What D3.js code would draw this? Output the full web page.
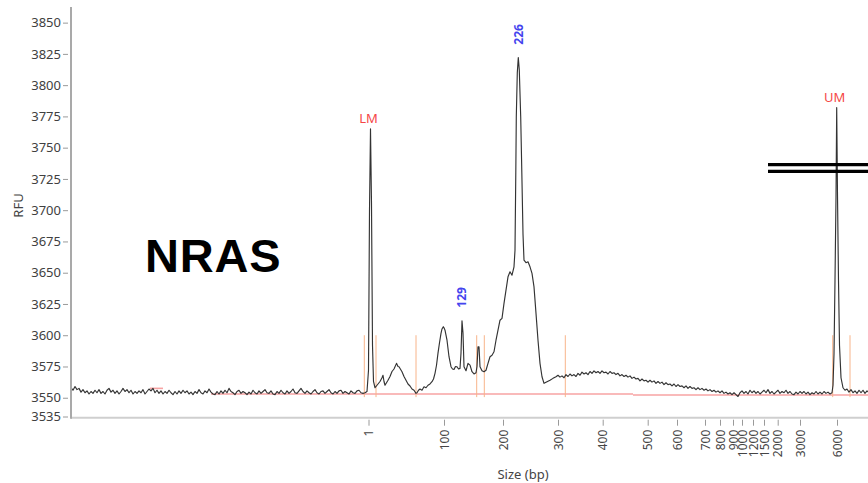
<!DOCTYPE html>
<html>
<head>
<meta charset="utf-8">
<script src="https://cdn.jsdelivr.net/npm/d3@7"></script>
<style>
  html, body { margin: 0; padding: 0; background: #fff; }
  svg { display: block; font-family: "Noto Sans", "DejaVu Sans", sans-serif; }
</style>
</head>
<body>
<svg id="chart" width="868" height="483"></svg>
<script>
// Size ladder: fragment sizes (bp) and the data point where each fragment migrates
const ladderSizes = [1, 100, 200, 300, 400, 500, 600, 700, 800, 900, 1000, 1200, 1500, 2000, 3000, 6000];
const ladderScans = [297.5, 373, 432, 487, 531.7, 576.7, 606, 634, 649, 662, 671, 682, 693, 706.7, 729, 766];

// RFU axis ticks
const rfuTicks = [3535, 3550, 3575, 3600, 3625, 3650, 3675, 3700, 3725, 3750, 3775, 3800, 3825, 3850];

// Lower / upper markers
const markerNames = ["LM", "UM"];
const markerScans = [299.5, 765.7];
const markerRFU = [3765, 3782];

// Called sample peaks (bp)
const calledSizes = [129, 226];
const calledScans = [391, 447.3];
const calledRFU = [3611.6, 3822];

// Peak integration boundaries (data point)
const boundaryScans = [293.3, 305, 345, 405.7, 413.3, 494.3, 761.7, 779];
const boundaryRFU = [3550.5, 3600];

// Fitted baseline segments
const baselineFrom = [79, 140, 562];
const baselineTo = [92, 562, 800];
const baselineRFU = [3557.5, 3553, 3552.2];

// Axis-break marks
const breakRFU = [3736.5, 3731];
const breakFrom = 697;

// Electropherogram trace: [data point, RFU]
const trace = [
  [0,3558],[2,3556],[4,3559],[6,3556.5],[8,3557.5],[10,3554.5],[12,3556.5],[14,3554],[16,3555.5],[18,3553],
  [20,3555],[22,3553.5],[24,3556],[26,3554],[28,3556.5],[30,3553.5],[32,3555],[34,3553],[36,3556],[38,3557.5],
  [40,3554.5],[42,3556],[44,3553.5],[46,3555.5],[48,3553],[50,3555],[52,3557.5],[54,3555],[56,3556.5],[58,3554],
  [60,3556],[62,3553],[64,3555],[66,3553.5],[68,3555.5],[70,3554],[72,3556.5],[74,3553],[76,3555],[78,3557],
  [80,3555.5],[82,3557.5],[84,3554],[86,3556],[88,3553.5],[90,3555.5],[92,3553],[94,3555],[96,3553.5],[98,3556],
  [100,3554],[102,3552.5],[104,3555],[106,3553],[108,3555.5],[110,3553.5],[112,3556],[114,3554],[116,3555.5],[118,3553],
  [120,3554.5],[122,3552.5],[124,3555],[126,3553.5],[128,3556.5],[130,3554],[132,3553],[134,3555.5],[136,3554],[138,3557],
  [140,3554.5],[142,3553],[144,3552.5],[146,3555],[148,3553],[150,3555.5],[152,3553.5],[154,3556],[156,3554],[158,3557.5],
  [160,3555],[162,3554],[164,3552.5],[166,3555],[168,3556],[170,3553.5],[172,3555],[174,3554],[176,3552.5],[178,3554.5],
  [180,3553],[182,3556],[184,3554],[186,3553],[188,3555.5],[190,3553.5],[192,3555],[194,3556.5],[196,3554],[198,3553.5],
  [200,3555.5],[202,3553],[204,3552.5],[206,3555],[208,3553.5],[210,3556],[212,3554],[214,3553],[216,3555.5],[218,3553.5],
  [220,3555],[222,3557],[224,3554],[226,3553.5],[228,3555.5],[230,3557.5],[232,3555],[234,3553.5],[236,3555.5],[238,3554],
  [240,3553],[242,3555],[244,3556.5],[246,3554],[248,3553],[250,3555],[252,3555.5],[254,3553.5],[256,3555],[258,3556.5],
  [260,3554],[262,3553],[264,3555],[266,3553.5],[268,3555.5],[270,3556],[272,3553.5],[274,3555],[276,3554],[278,3553],
  [280,3555.5],[282,3554],[284,3553.5],[286,3555.5],[288,3556],[290,3554],[292,3553.5],[294,3554],
  // lower marker
  [296,3555],[297.5,3572],[298.5,3700],[299.5,3765],[300.5,3705],[301.5,3592],[302.5,3563],[304,3558],
  [305,3559],[307,3561],[309,3563],[311,3566],[312,3568],[313,3563],[314,3560],[315.5,3562],[317,3564],[319,3567],
  [321,3571],[323,3573],[325.5,3577.5],[327,3575],[328,3574.8],[331,3570.8],[333,3567],[335,3564],[337,3561],[339,3559.4],
  [341,3557],[343,3556],[345,3553.5],[346,3554],[347.5,3556],[349,3557],[351,3556],[353,3558.8],[355,3558],[357,3560],
  [359,3561],[361,3562.8],[362.5,3565],[364,3569.5],[365.5,3576],[367,3585.7],[368.5,3594],[370,3601.5],[371,3605],
  [372.3,3606.8],[373.3,3605.5],[374,3604],[376,3596],[378,3582.8],[380,3574.8],[381.5,3573],[383,3572.7],[384.5,3575],
  [386,3574.8],[387.5,3573],[389,3573.5],[390,3585.7],[391,3611.6],[392,3601.7],[393,3574.8],[395,3571.6],[397,3577.5],
  [399,3576.1],[401,3570.8],[403,3569],[405,3570],[406,3575],[407,3590.8],[408,3590.8],[409,3574.8],[411,3571.6],
  [413,3570.8],[415,3572],[417,3577.5],[419,3582.8],[421,3584],[423,3586.8],[425,3596],[427,3604],[429,3612],
  [431,3613.5],[433,3625.5],[435,3636],[437,3646.7],[439,3650.7],[441,3648],[443,3654.7],
  // main product
  [444,3668],[444.8,3730],[445.3,3775],[446.3,3810],[447.3,3822],[448.3,3812],[449.7,3775],[450.7,3735],[452,3681],
  [453,3660],[455,3658],[457,3658.7],[459,3654.7],[461,3649.5],[463,3638.7],[465,3617.5],[467,3596],[469,3577.5],
  [471,3566.8],[473,3561.5],[476,3562.8],[479,3564],[482,3565.5],[485,3566.8],
  // broad hump
  [487,3568],[489,3566.5],[491,3567.5],[493,3566],[495,3568.5],[497,3567],[499,3569],[501,3567.5],[503,3568.5],[505,3567],
  [507,3569.5],[509,3568],[511,3570.5],[513,3569],[515,3570],[517,3568.5],[519,3571],[521,3569.5],[523,3571.5],[525,3570],
  [527,3571],[529,3569.5],[531,3571.5],[533,3570],[535,3570.5],[537,3569],[539,3571],[541,3569.5],[543,3570],[545,3568.5],
  [547,3569.5],[549,3567.5],[551,3568.5],[553,3567],[555,3568],[557,3566.5],[559,3567.5],[561,3565.5],[563,3566.5],[565,3565],
  [567,3565.5],[569,3563.5],[571,3565],[573,3563.5],[575,3564],[577,3562.5],[579,3564],[581,3562.5],[583,3563.5],[585,3561.5],
  [587,3563],[589,3561.5],[591,3562.5],[593,3560.5],[595,3562],[597,3560.5],[599,3561],[601,3559.5],[603,3561],[605,3559],
  [607,3560.5],[609,3559],[611,3559.5],[613,3558],[615,3559.5],[617,3557.5],[619,3559],[621,3557.5],[623,3558],[625,3556.5],
  [627,3558],[629,3556.5],[631,3557.5],[633,3556],[635,3557],[637,3555.5],[639,3556.5],[641,3555],[643,3556],[645,3554.5],
  [647,3555.5],[649,3554],[651,3555.5],[653,3553.5],[655,3554.5],[657,3553],[659,3554],[661,3552.5],[663,3554],[665,3552.5],
  [667,3551],
  // flat stretch before the upper marker
  [669,3554],[671,3555.5],[673,3553.5],[675,3555],[677,3553],[679,3556],[681,3554],[683,3555.5],[685,3553.5],[687,3555],
  [689,3553],[691,3554.5],[693,3556],[695,3554],[697,3556.5],[699,3553.5],[701,3555],[703,3553],[705,3554.5],[707,3556],
  [709,3553.5],[711,3555],[713,3554],[715,3556],[717,3553.5],[719,3555],[721,3553],[723,3552.5],[725,3554.5],[727,3553],
  [729,3555],[731,3553.5],[733,3555],[735,3553],[737,3554.5],[739,3552.5],[741,3554],[743,3553],[745,3555],[747,3553],
  [749,3554.5],[751,3553],[753,3555],[755,3553.5],[757,3554.5],[759,3553],[761,3554],[762,3560],
  // upper marker
  [763,3585],[764,3644],[765,3710],[765.7,3782],[766.5,3712],[767.5,3644],[768.5,3592],[770,3566],[772,3558],
  [774,3556],[776,3557],[778,3554.5],[780,3556.5],[782,3554],[784,3555.5],[786,3553.5],[788,3556],[790,3554],
  [792,3556],[794,3553.5],[796,3555.5],[798,3554],[800,3555]
];

const W = 868, H = 483;
const svg = d3.select("#chart");

const x = d3.scaleLinear().domain([0, 800]).range([71, 871]);
const y = d3.scaleLinear().domain([3535, 3862.5]).range([416.5, 7]);
// bp -> pixel through the ladder calibration
const xSize = d3.scaleLinear().domain(ladderSizes).range(ladderScans.map(s => x(s)));

svg.append("clipPath").attr("id", "plotArea")
  .append("rect").attr("x", 72).attr("y", 0).attr("width", W - 72).attr("height", 417);

const plot = svg.append("g").attr("clip-path", "url(#plotArea)");

// fitted baseline
plot.selectAll("line.baseline")
  .data(baselineRFU)
  .join("line")
  .attr("class", "baseline")
  .attr("x1", (d, i) => x(baselineFrom[i]))
  .attr("x2", (d, i) => x(baselineTo[i]))
  .attr("y1", d => y(d))
  .attr("y2", d => y(d))
  .attr("stroke", "#f7a3a3")
  .attr("stroke-width", 1.6);

// peak boundaries
plot.selectAll("line.boundary")
  .data(boundaryScans)
  .join("line")
  .attr("class", "boundary")
  .attr("x1", d => x(d)).attr("x2", d => x(d))
  .attr("y1", y(boundaryRFU[0])).attr("y2", y(boundaryRFU[1]))
  .attr("stroke", "#f8b48a")
  .attr("stroke-width", 1);

// trace
const line = d3.line().x(d => x(d[0])).y(d => y(d[1]));
plot.append("path")
  .datum(trace)
  .attr("d", line)
  .attr("fill", "none")
  .attr("stroke", "#333")
  .attr("stroke-width", 1.15)
  .attr("stroke-linejoin", "round");

// marker labels
svg.selectAll("text.marker")
  .data(markerNames)
  .join("text")
  .attr("class", "marker")
  .attr("x", (d, i) => x(markerScans[i]) - 2)
  .attr("y", (d, i) => y(markerRFU[i]) - 6)
  .attr("text-anchor", "middle")
  .attr("fill", "#f54646")
  .style("font-size", "13px")
  .text(d => d);

// called peak labels (rotated)
svg.selectAll("text.called")
  .data(calledSizes)
  .join("text")
  .attr("class", "called")
  .attr("transform", (d, i) => `translate(${x(calledScans[i])},${y(calledRFU[i]) - 13}) rotate(-90)`)
  .attr("dy", "0.36em")
  .attr("text-anchor", "start")
  .attr("fill", "#4444ee")
  .style("font-size", "12px")
  .style("font-weight", "bold")
  .text(d => d);

// axis lines
svg.append("line")
  .attr("x1", 71).attr("x2", W).attr("y1", 417.7).attr("y2", 417.7)
  .attr("stroke", "#cfcfcf").attr("stroke-width", 2);
svg.append("line")
  .attr("x1", 71).attr("x2", 71).attr("y1", 7).attr("y2", 418.7)
  .attr("stroke", "#a9a9a9").attr("stroke-width", 2);

// y axis
const gy = svg.append("g")
  .attr("transform", "translate(71,0)")
  .call(d3.axisLeft(y).tickValues(rfuTicks).tickSizeInner(5).tickSizeOuter(0).tickPadding(5).tickFormat(d3.format("d")));
gy.attr("font-size", 13).attr("font-family", "Noto Sans, DejaVu Sans, sans-serif");
gy.select(".domain").remove();
gy.selectAll(".tick line").attr("transform", "translate(-3,0)").attr("stroke", "#9a9a9a");
gy.selectAll(".tick text").attr("fill", "#404040");

// x axis (bp)
const gx = svg.append("g")
  .attr("transform", "translate(0,417.7)")
  .call(d3.axisBottom(xSize).tickValues(ladderSizes).tickSizeInner(6).tickSizeOuter(0).tickFormat(d3.format("d")));
gx.attr("font-size", 12).attr("font-family", "Noto Sans, DejaVu Sans, sans-serif");
gx.select(".domain").remove();
gx.selectAll(".tick line").attr("transform", "translate(0,2)").attr("stroke", "#9a9a9a");
gx.selectAll(".tick text")
  .attr("transform", "rotate(-90)")
  .attr("x", -12).attr("y", 0).attr("dy", "0.35em")
  .attr("text-anchor", "end")
  .attr("fill", "#454545");

// axis titles
svg.append("text")
  .attr("x", 523).attr("y", 479)
  .attr("text-anchor", "middle")
  .attr("fill", "#444")
  .style("font-size", "13px")
  .text("Size (bp)");
svg.append("text")
  .attr("transform", "translate(18.5,205.5) rotate(-90)")
  .attr("dy", "0.35em")
  .attr("text-anchor", "middle")
  .attr("fill", "#444")
  .style("font-size", "13px")
  .text("RFU");

// gene name
svg.append("text")
  .attr("x", 145).attr("y", 272)
  .style("font-family", "Liberation Sans, Arial, sans-serif")
  .style("font-size", "47px")
  .style("font-weight", "bold")
  .style("letter-spacing", "0.8px")
  .attr("fill", "#000")
  .text("NRAS");

// axis-break marks
svg.selectAll("line.break")
  .data(breakRFU)
  .join("line")
  .attr("class", "break")
  .attr("x1", x(breakFrom)).attr("x2", W)
  .attr("y1", d => y(d)).attr("y2", d => y(d))
  .attr("stroke", "#000")
  .attr("stroke-width", 3.3);
</script>
</body>
</html>
